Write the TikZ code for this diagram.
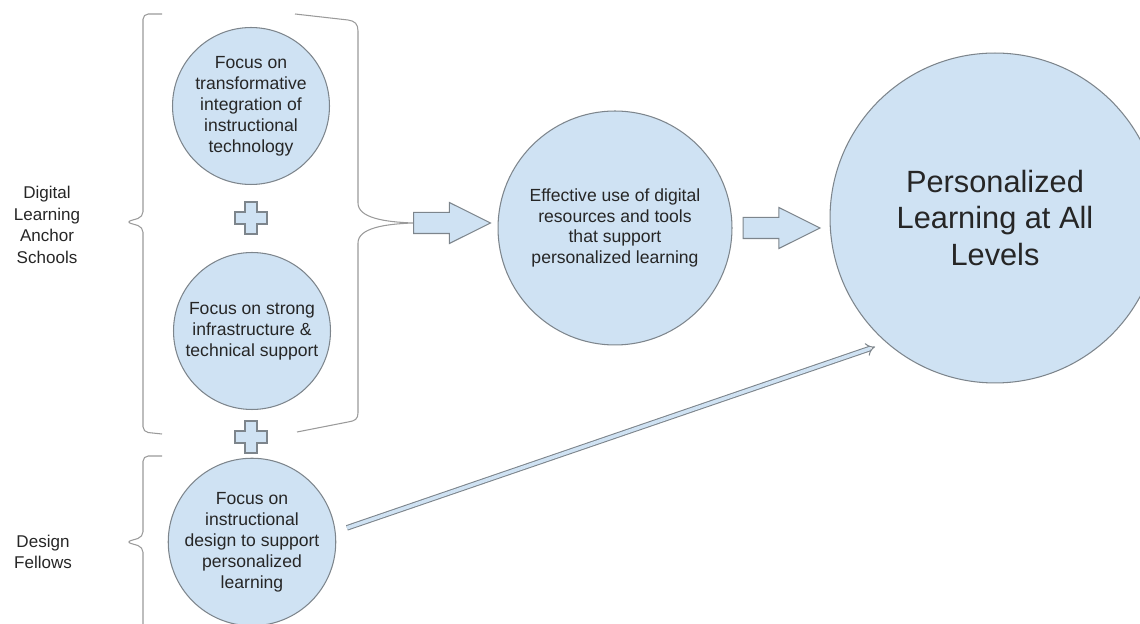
\documentclass[tikz,border=0pt]{standalone}
\usepackage{fontspec}
\setmainfont{Liberation Sans}
\usetikzlibrary{arrows.meta,shapes.arrows}
\definecolor{flowblue}{HTML}{CFE2F3}
\definecolor{flowedge}{HTML}{7D858C}
\definecolor{braceedge}{HTML}{9A9A9A}
\definecolor{flowtext}{HTML}{262626}

\begin{document}
\begin{tikzpicture}[
        x=0.02cm, y=-0.02cm,
        idea/.style={
          circle,
          draw=flowedge,
          fill=flowblue,
          line width=0.6pt,
          inner sep=0pt,
          align=center,
          text=flowtext,
          font=\fontsize{10}{11.9}\selectfont
        },
        focus/.style={idea, minimum size=3.14cm},
        grouplabel/.style={
          align=center,
          text=flowtext,
          font=\fontsize{9.7}{12.4}\selectfont
        },
        bigarrow/.style={
          single arrow,
          draw=flowedge,
          fill=flowblue,
          line width=0.6pt,
          inner sep=0.2cm,
          single arrow head extend=0.2cm,
          single arrow tip angle=53,
          minimum height=1.54cm
        },
        brace/.style={draw=braceedge, line width=0.6pt},
        plusmark/.style={draw=flowedge, fill=flowblue, line width=0.6pt},
        fellowarrow/.style={
          -{Implies},
          draw=flowedge,
          line width=0.6pt,
          double=flowblue,
          double distance=2pt,
          shorten <=6.8pt,
          shorten >=6.8pt
        }
      ]

      \useasboundingbox (0,0) rectangle (1140,624);

      % group labels
      \node[grouplabel] (anchors) at (47,225) {Digital\\Learning\\Anchor\\Schools};
      \node[grouplabel] (fellows) at (43,552) {Design\\Fellows};

      % focus circles
      \node[focus] (integration) at (251,106) {Focus on\\transformative\\integration of\\instructional\\technology};
      \node[focus] (infra) at (252,331) {Focus on strong\\infrastructure \&\\technical support};
      \node[focus] (design) at (252,542) {Focus on\\instructional\\design to support\\personalized\\learning};

      \foreach \py in {218,437} {
        \draw[plusmark] (245,\py-16) -- ++(12,0) -- ++(0,10) -- ++(10,0) -- ++(0,12)
          -- ++(-10,0) -- ++(0,10) -- ++(-12,0) -- ++(0,-10) -- ++(-10,0)
          -- ++(0,-12) -- ++(10,0) -- cycle;
      }

      % brackets
      \draw[brace, rounded corners=3pt] (162,14) -- (143,14) -- (143,217) -- (126,222)
        -- (143,227) -- (143,432) -- (162,434);
      \draw[brace, rounded corners=3pt] (162,456) -- (143,456) -- (143,537) -- (126,542)
        -- (143,547) -- (143,640);
      \draw[brace] (295,14) -- (348,20) .. controls (355,21) and (358,24) .. (358,31)
        -- (358,203) .. controls (358,218) and (385,222) .. (413,223) coordinate (bracetip)
        .. controls (385,224) and (358,228) .. (358,243)
        -- (358,413) .. controls (358,419) and (355,421) .. (348,422) -- (297,432);

      % outcomes
      \node[idea, minimum size=4.68cm] (effective) at (615,228) {Effective use of digital\\resources and tools\\that support\\personalized learning};
      \node[idea, minimum size=6.6cm, font=\fontsize{17.5}{20.7}\selectfont] (levels) at (995,218) {Personalized\\Learning at All\\Levels};

      \node[bigarrow, anchor=tail] (pushA) at (bracetip) {};
      \node[bigarrow, anchor=tail] (pushB) at ([xshift=0.2cm]effective.east) {};

      \draw[fellowarrow] (design.7.5) -- (levels.229.6);

      \end{tikzpicture}
\end{document}
